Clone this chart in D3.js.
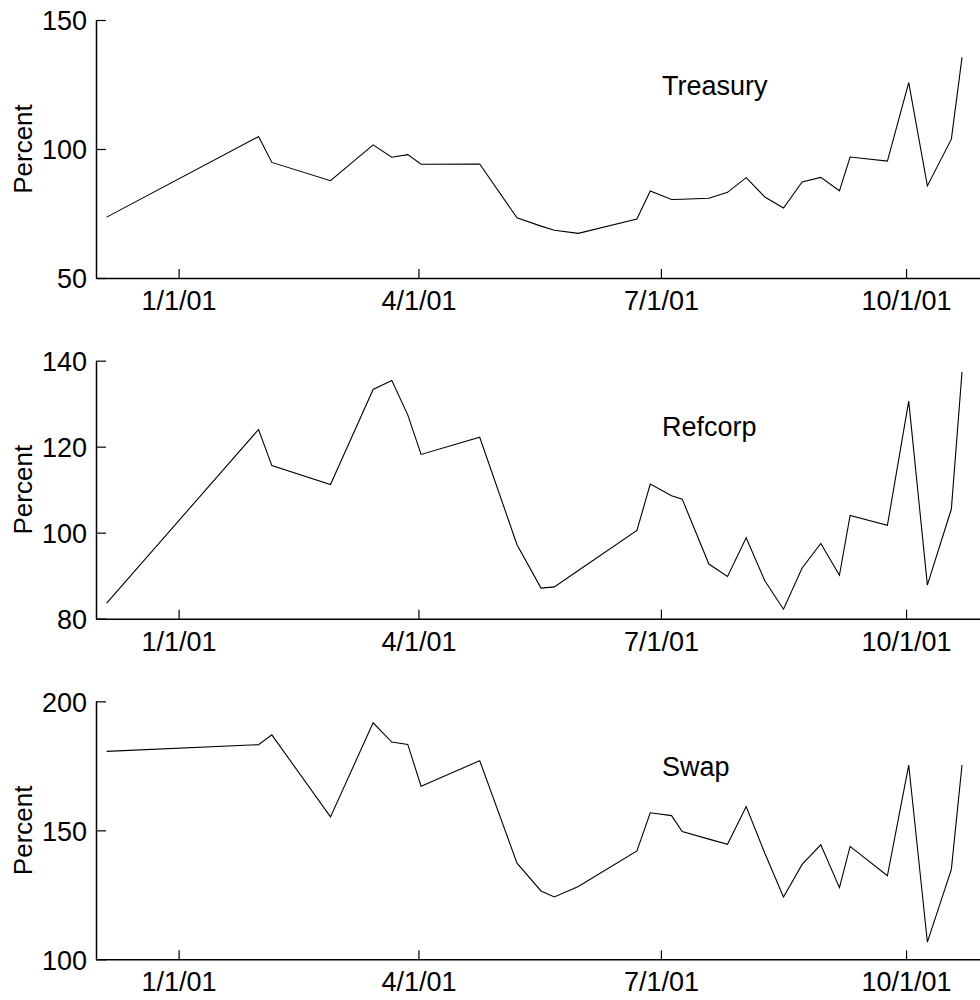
<!DOCTYPE html>
<html>
<head>
<meta charset="utf-8">
<script src="https://cdn.jsdelivr.net/npm/d3@7"></script>
<style>
  body { margin: 0; background: #fff; }
  svg { display: block; }
  text { font-family: "Liberation Sans", Arial, sans-serif; }
</style>
</head>
<body>
<div class="graph"></div>
<script>
// observation dates, shared by all three series
var dates = ['2000-12-05','2001-01-31','2001-02-05','2001-02-27','2001-03-15','2001-03-22',
  '2001-03-28','2001-04-02','2001-04-24','2001-05-08','2001-05-17','2001-05-22','2001-05-31',
  '2001-06-22','2001-06-27','2001-07-05','2001-07-09','2001-07-19','2001-07-26','2001-08-02',
  '2001-08-09','2001-08-16','2001-08-23','2001-08-30','2001-09-06','2001-09-10','2001-09-24',
  '2001-10-02','2001-10-09','2001-10-18','2001-10-22'];

var treasury = [73.6,104.8,94.8,87.7,101.6,96.8,97.8,94.1,94.2,73.3,70.1,68.5,67.3,72.9,83.7,
  80.4,80.5,80.9,83.2,88.9,81.4,77.1,87.2,89.0,83.8,96.9,95.3,125.7,85.7,103.8,135.5];
var refcorp = [83.6,124.0,115.6,111.2,133.3,135.4,127.4,118.2,122.2,97.2,87.1,87.4,91.2,100.5,111.3,
  108.6,107.8,92.7,89.8,98.8,88.8,82.2,91.8,97.5,90.1,104.0,101.7,130.6,87.8,105.5,137.4];
var swap = [180.6,183.2,187.0,155.2,191.7,184.2,183.3,167.1,177.0,137.3,126.5,124.2,128.2,142.0,156.8,
  155.7,149.5,146.6,144.6,159.2,141.1,124.2,136.8,144.4,127.8,143.8,132.4,175.3,106.7,134.9,175.3];

var seriesNames = ['Treasury', 'Refcorp', 'Swap'];
var yDomains = [[50, 150], [80, 140], [100, 200]];
var yTicks = [[50, 100, 150], [80, 100, 120, 140], [100, 150, 200]];
var xTickDates = ['2001-01-01', '2001-04-01', '2001-07-01', '2001-10-01'];
var xDomain = ['2000-12-01', '2001-10-31'];

var parse = d3.timeParse('%Y-%m-%d');
var fmt = d3.timeFormat('%-m/%-d/%y');
var values = [treasury, refcorp, swap];

var w = 980, h = 1000;
var svg = d3.select('div.graph').append('svg')
  .attr('width', w).attr('height', h);

// panel geometry
var left = 96, panelTop = 20, panelH = 258, step = 340.67;
var fontSize = 27;

var x = d3.scaleTime().domain(xDomain.map(parse)).range([left, 986]);

values.forEach(function(vals, i){
  var top = panelTop + i * step;
  var y = d3.scaleLinear().domain(yDomains[i]).range([top + panelH, top]);
  var g = svg.append('g').attr('class', 'panel');

  var data = dates.map(function(d, j){ return {date: parse(d), v: vals[j]}; });

  // x axis, inward ticks
  var xAxis = d3.axisBottom(x).tickValues(xTickDates.map(parse)).tickFormat(fmt)
    .tickSizeInner(-9).tickSizeOuter(0).tickPadding(13);
  var xg = g.append('g').attr('transform', 'translate(0,' + (top + panelH) + ')').call(xAxis);

  // y axis, inward ticks
  var yAxis = d3.axisLeft(y).tickValues(yTicks[i]).tickFormat(d3.format('d'))
    .tickSizeInner(-10).tickSizeOuter(0).tickPadding(9);
  var yg = g.append('g').attr('transform', 'translate(' + left + ',0)').call(yAxis);

  [xg, yg].forEach(function(a){
    a.attr('font-size', fontSize).attr('font-family', '"Liberation Sans", Arial, sans-serif');
    a.select('.domain').attr('stroke', '#000').attr('stroke-width', 1.5);
    a.selectAll('.tick line').attr('stroke', '#000').attr('stroke-width', 1.2);
    a.selectAll('.tick text').attr('fill', '#000');
  });
  yg.selectAll('.tick text').attr('dy', '0.36em');

  // series line
  var line = d3.line().x(function(d){ return x(d.date); }).y(function(d){ return y(d.v); });
  g.append('path').datum(data)
    .attr('d', line)
    .attr('fill', 'none')
    .attr('stroke', '#000')
    .attr('stroke-width', 1.1)
    .attr('stroke-linejoin', 'miter');

  // series name
  g.append('text')
    .attr('x', 662).attr('y', top + 75)
    .attr('font-size', fontSize)
    .text(seriesNames[i]);

  // y title
  g.append('text')
    .attr('transform', 'translate(32,' + (top + panelH / 2) + ') rotate(-90)')
    .attr('text-anchor', 'middle')
    .attr('font-size', fontSize - 1)
    .text('Percent');
});
</script>
</body>
</html>
